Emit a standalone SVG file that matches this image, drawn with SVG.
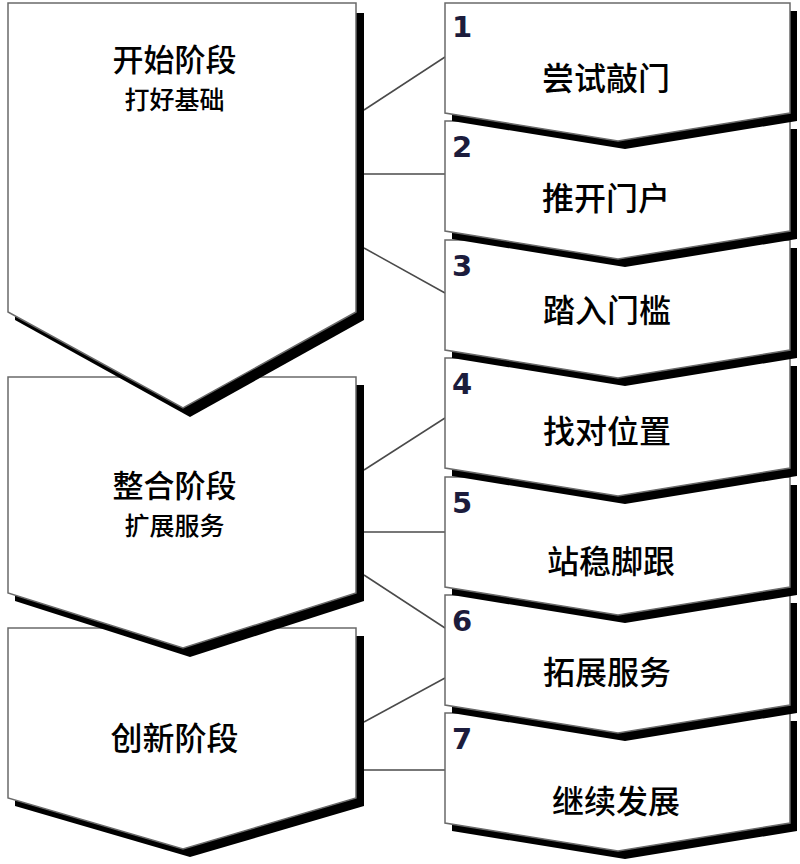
<svg xmlns="http://www.w3.org/2000/svg" width="800" height="864" viewBox="0 0 800 864">
<style>
.sh{fill:#000}
.bx{fill:#fff;stroke:#6a6a6a;stroke-width:1.5}
.conn{stroke:#4a4a4a;stroke-width:1.5;fill:none}
.lbl{font-family:"Noto Sans CJK SC","Noto Sans CJK JP",sans-serif;font-size:32px;font-weight:500;fill:#000;text-anchor:middle}
.top{font-size:31px}
.sub{font-family:"Noto Sans CJK SC","Noto Sans CJK JP",sans-serif;font-size:25px;font-weight:500;fill:#000;text-anchor:middle}
.num{font-family:"DejaVu Sans",sans-serif;font-weight:bold;font-size:29px;fill:#1c1c3c}
</style>
<rect width="800" height="864" fill="#fff"/>
<g id="connectors">
<line class="conn" x1="364" y1="110" x2="445" y2="57"/>
<line class="conn" x1="364" y1="174" x2="445" y2="174"/>
<line class="conn" x1="364" y1="248" x2="445" y2="293"/>
<line class="conn" x1="364" y1="470" x2="445" y2="418"/>
<line class="conn" x1="364" y1="532" x2="445" y2="532"/>
<line class="conn" x1="364" y1="575" x2="445" y2="628"/>
<line class="conn" x1="364" y1="722" x2="445" y2="678"/>
<line class="conn" x1="364" y1="770" x2="445" y2="770"/>
</g>
<g id="stage3">
<path class="sh" d="M15,636 H364 V806 L190,857 L15,806 Z"/>
<path class="bx" d="M8,628 H356 V798 L183,849 L8,798 Z"/>
<text class="lbl" x="174.5" y="750">创新阶段</text>
</g>
<g id="stage2">
<path class="sh" d="M15,385 H364 V601 L190,657 L15,601 Z"/>
<path class="bx" d="M8,377 H356 V593 L183,648 L8,593 Z"/>
<text class="lbl top" x="174.5" y="497">整合阶段</text>
<text class="sub" x="174.5" y="535">扩展服务</text>
</g>
<g id="stage1">
<path class="sh" d="M15,13 H364 V320 L190,417 L15,320 Z"/>
<path class="bx" d="M8,3 H356 V312 L183,408 L8,312 Z"/>
<text class="lbl top" x="174.5" y="71">开始阶段</text>
<text class="sub" x="174.5" y="109">打好基础</text>
</g>
<g id="item7">
<path class="sh" d="M452,721 H797 V831 L625,859 L452,831 Z"/>
<path class="bx" d="M445,713 H790 V823 L618,851 L445,823 Z"/>
<text class="num" x="452" y="749">7</text>
<text class="lbl" x="616" y="813">继续发展</text>
</g>
<g id="item6">
<path class="sh" d="M452,603 H797 V713 L625,741 L452,713 Z"/>
<path class="bx" d="M445,595 H790 V705 L618,733 L445,705 Z"/>
<text class="num" x="452" y="631">6</text>
<text class="lbl" x="607" y="684">拓展服务</text>
</g>
<g id="item5">
<path class="sh" d="M452,485 H797 V595 L625,623 L452,595 Z"/>
<path class="bx" d="M445,477 H790 V587 L618,615 L445,587 Z"/>
<text class="num" x="452" y="513">5</text>
<text class="lbl" x="611" y="573">站稳脚跟</text>
</g>
<g id="item4">
<path class="sh" d="M452,366 H797 V476 L625,504 L452,476 Z"/>
<path class="bx" d="M445,358 H790 V468 L618,496 L445,468 Z"/>
<text class="num" x="452" y="394">4</text>
<text class="lbl" x="607" y="443">找对位置</text>
</g>
<g id="item3">
<path class="sh" d="M452,248 H797 V358 L625,386 L452,358 Z"/>
<path class="bx" d="M445,240 H790 V350 L618,378 L445,350 Z"/>
<text class="num" x="452" y="276">3</text>
<text class="lbl" x="607" y="322">踏入门槛</text>
</g>
<g id="item2">
<path class="sh" d="M452,129 H797 V239 L625,267 L452,239 Z"/>
<path class="bx" d="M445,121 H790 V231 L618,259 L445,231 Z"/>
<text class="num" x="452" y="157">2</text>
<text class="lbl" x="606" y="210">推开门户</text>
</g>
<g id="item1">
<path class="sh" d="M452,11 H797 V121 L625,149 L452,121 Z"/>
<path class="bx" d="M445,3 H790 V113 L618,141 L445,113 Z"/>
<text class="num" x="452" y="37">1</text>
<text class="lbl" x="606" y="90">尝试敲门</text>
</g>
</svg>
